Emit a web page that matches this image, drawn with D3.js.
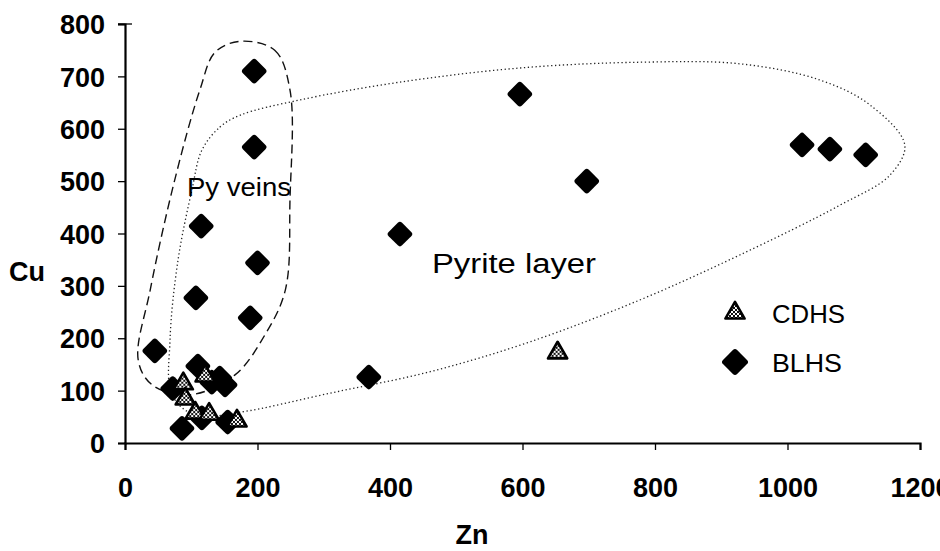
<!DOCTYPE html>
<html>
<head>
<meta charset="utf-8">
<script src="https://cdn.jsdelivr.net/npm/d3@7"></script>
<style>
  html, body { margin: 0; padding: 0; background: #fff; }
  svg { display: block; }
</style>
</head>
<body>
<svg id="chart" width="940" height="551"></svg>
<script>
// Zn / Cu scatter (ppm) for two sample groups
const xTicks = [0, 200, 400, 600, 800, 1000, 1200];
const yTicks = [0, 100, 200, 300, 400, 500, 600, 700, 800];

const blhsZn = [195, 195, 115, 200, 107, 189, 45, 110, 72, 143, 131, 151, 86, 116, 155, 368, 415, 596, 697, 1022, 1064, 1118];
const blhsCu = [710, 565, 414, 344, 277, 239, 176, 147, 104, 124, 116, 111, 28, 48, 40, 126, 399, 666, 500, 569, 561, 550];

const cdhsZn = [88, 121, 91, 106, 127, 169, 653];
const cdhsCu = [115, 130, 86, 59, 57, 44, 174];

// Envelope outlines, in data units (Zn, Cu)
const veinsZn = [174, 226, 249, 249, 242, 211, 166, 98, 41, 20, 38, 75, 113, 136];
const veinsCu = [767, 750, 674, 464, 292, 206, 130, 92, 111, 158, 292, 502, 674, 746];

const layerZn = [116, 143, 174, 264, 415, 596, 777, 928, 1049, 1125, 1177, 1155, 1079, 928, 777, 611, 460, 309, 174, 106, 71, 68, 80, 101];
const layerCu = [559, 603, 626, 655, 689, 716, 727, 724, 693, 645, 569, 512, 454, 359, 273, 193, 136, 95, 59, 53, 92, 197, 349, 483];

const seriesNames = ["CDHS", "BLHS"];
const regionLabels = ["Py veins", "Pyrite layer"];

const font = "'Liberation Sans', Arial, sans-serif";
const svg = d3.select("#chart");
const x = d3.scaleLinear().domain([0, 1200]).range([125, 920]);
const y = d3.scaleLinear().domain([0, 800]).range([443, 24]);

// checker fill for the triangle markers
const defs = svg.append("defs");
const pat = defs.append("pattern").attr("id", "chk")
  .attr("width", 4).attr("height", 4).attr("patternUnits", "userSpaceOnUse");
pat.append("rect").attr("width", 4).attr("height", 4).attr("fill", "#fff");
pat.append("rect").attr("width", 2).attr("height", 2).attr("fill", "#111");
pat.append("rect").attr("x", 2).attr("y", 2).attr("width", 2).attr("height", 2).attr("fill", "#111");

// envelopes
const outline = d3.line().x(d => x(d[0])).y(d => y(d[1])).curve(d3.curveCatmullRomClosed.alpha(0.5));
svg.append("path")
  .attr("d", outline(veinsZn.map((v, i) => [v, veinsCu[i]])))
  .attr("fill", "none").attr("stroke", "#111").attr("stroke-width", 1.4)
  .attr("stroke-dasharray", "9,5");
svg.append("path")
  .attr("d", outline(layerZn.map((v, i) => [v, layerCu[i]])))
  .attr("fill", "none").attr("stroke", "#222").attr("stroke-width", 1.3)
  .attr("stroke-dasharray", "1.3,2.6");

// axes
const xAxis = svg.append("g").attr("transform", `translate(0,${y(0)})`)
  .call(d3.axisBottom(x).tickValues(xTicks).tickSize(7).tickPadding(28).tickFormat(d3.format("d")));
const yAxis = svg.append("g").attr("transform", `translate(${x(0)},0)`)
  .call(d3.axisLeft(y).tickValues(yTicks).tickSize(7).tickPadding(13).tickFormat(d3.format("d")));
[xAxis, yAxis].forEach(g => {
  g.select(".domain").attr("stroke", "#000").attr("stroke-width", 2.2);
  g.selectAll(".tick line").attr("stroke", "#000").attr("stroke-width", 1.3);
  g.selectAll(".tick text").attr("fill", "#000")
    .style("font-family", font)
    .style("font-weight", "bold").style("font-size", "27px");
});
yAxis.selectAll(".tick text").attr("dy", "0.36em");
// top cap of the y axis
svg.append("line").attr("x1", x(0) - 7).attr("x2", x(0) + 7)
  .attr("y1", y(800)).attr("y2", y(800)).attr("stroke", "#000").attr("stroke-width", 1.3);

// axis titles
svg.append("text").text("Cu").attr("x", 27).attr("y", 281).attr("text-anchor", "middle")
  .style("font-family", font).style("font-weight", "bold").style("font-size", "27px");
svg.append("text").text("Zn").attr("x", 472).attr("y", 544).attr("text-anchor", "middle")
  .style("font-family", font).style("font-weight", "bold").style("font-size", "27px");

// markers
const diamond = (g, cx, cy, s) => g.append("rect")
  .attr("x", -s / 2).attr("y", -s / 2).attr("width", s).attr("height", s).attr("rx", 3)
  .attr("transform", `translate(${cx},${cy}) rotate(45)`).attr("fill", "#000");
const tri = d3.symbol().type(d3.symbolTriangle).size(160);
const triangle = (g, cx, cy) => g.append("path").attr("d", tri())
  .attr("transform", `translate(${cx},${cy + 1})`)
  .attr("fill", "url(#chk)").attr("stroke", "#000").attr("stroke-width", 2.6).attr("stroke-linejoin", "round");

const gB = svg.append("g");
blhsZn.forEach((v, i) => diamond(gB, x(v), y(blhsCu[i]), 19));
const gC = svg.append("g");
cdhsZn.forEach((v, i) => triangle(gC, x(v), y(cdhsCu[i])));

// region labels
svg.append("text").text(regionLabels[0]).attr("x", 187).attr("y", 196)
  .attr("textLength", 104).attr("lengthAdjust", "spacingAndGlyphs")
  .style("font-family", font).style("font-size", "26px");
svg.append("text").text(regionLabels[1]).attr("x", 432).attr("y", 273)
  .attr("textLength", 164).attr("lengthAdjust", "spacingAndGlyphs")
  .style("font-family", font).style("font-size", "27px");

// legend
triangle(svg, 735, 312);
diamond(svg, 735, 362, 20);
svg.append("text").text(seriesNames[0]).attr("x", 772).attr("y", 323)
  .attr("textLength", 73).attr("lengthAdjust", "spacingAndGlyphs")
  .style("font-family", font).style("font-size", "25px");
svg.append("text").text(seriesNames[1]).attr("x", 772).attr("y", 372)
  .attr("textLength", 70).attr("lengthAdjust", "spacingAndGlyphs")
  .style("font-family", font).style("font-size", "25px");
</script>
</body>
</html>
